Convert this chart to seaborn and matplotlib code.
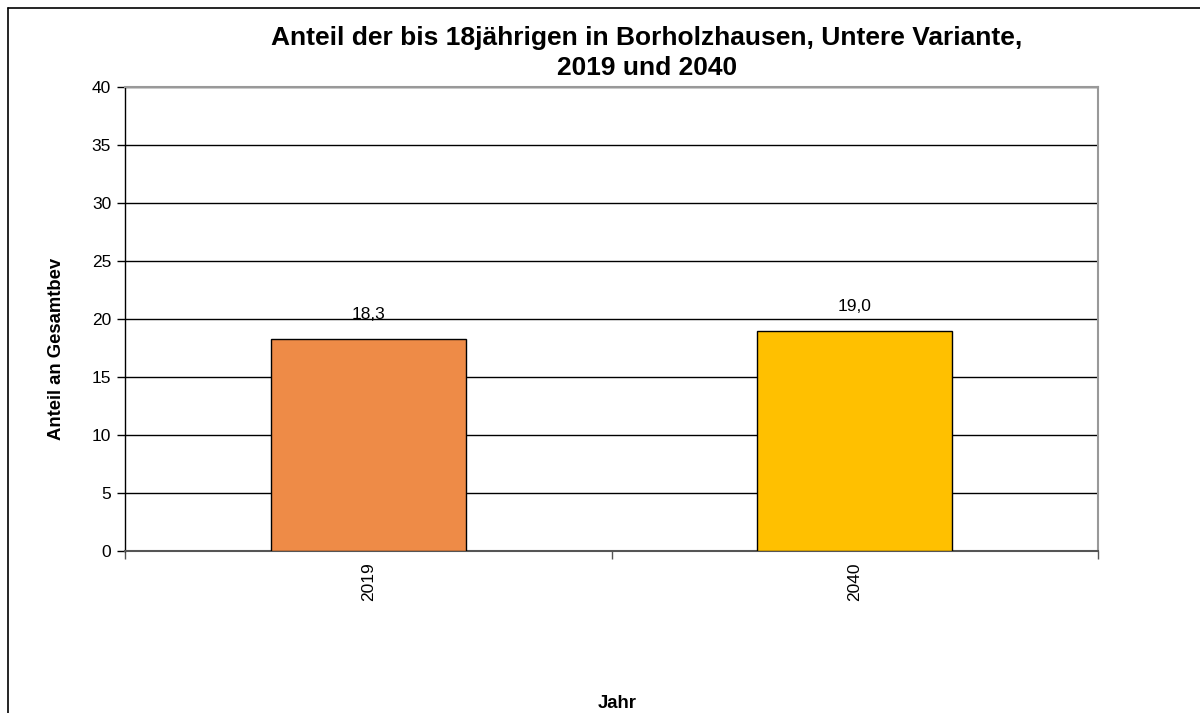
import numpy as np
import pandas as pd
import seaborn as sns
import matplotlib.pyplot as plt
from matplotlib.lines import Line2D

years = ["2019", "2040"]
shares = [18.3, 19.0]
share_labels = ["18,3", "19,0"]
bar_colors = ["#EE8B47", "#FFC000"]
y_ticks = [0, 5, 10, 15, 20, 25, 30, 35, 40]

sns.set_style("white")
plt.rcParams['font.family'] = ['Liberation Sans', 'DejaVu Sans']
plt.rcParams['text.color'] = 'black'
plt.rcParams['xtick.color'] = 'black'
plt.rcParams['ytick.color'] = 'black'
plt.rcParams['axes.labelcolor'] = 'black'

fig = plt.figure(figsize=(12, 7.13), dpi=100)
ax = fig.add_axes([125 / 1200, 1 - 551 / 713, (1098 - 125) / 1200, (551 - 87) / 713])

df = pd.DataFrame({"Jahr": years, "Anteil": shares})
sns.barplot(data=df, x="Jahr", y="Anteil", hue="Jahr", palette=bar_colors,
            saturation=1, width=0.4, edgecolor="black", linewidth=1,
            legend=False, ax=ax, zorder=3)

ax.set_xlim(-0.5, 1.5)
ax.set_ylim(0, 40)
ax.set_yticks(y_ticks)
ax.yaxis.grid(True, color="black", linewidth=1, zorder=0)
ax.set_axisbelow(True)
ax.tick_params(axis="y", direction="out", length=6, width=1, color="black",
               labelsize=12.5, left=True, pad=4)
ax.tick_params(axis="x", which="major", length=0, labelsize=12.5, pad=8,
               labelrotation=90)
ax.set_xticks([-0.5, 0.5, 1.5], minor=True)
ax.tick_params(axis="x", which="minor", direction="out", length=6, width=1,
               color="#555555", bottom=True)

for s in ["top", "right"]:
    ax.spines[s].set_color("#999999")
    ax.spines[s].set_linewidth(1.5)
ax.spines["left"].set_color("black")
ax.spines["left"].set_linewidth(1)
ax.spines["bottom"].set_color("#555555")
ax.spines["bottom"].set_linewidth(1.5)

for i, (v, lab) in enumerate(zip(shares, share_labels)):
    ax.annotate(lab, (i, v), xytext=(0, 14), textcoords="offset points",
                ha="center", va="baseline", fontsize=12.5)

ax.set_xlabel("")
ax.set_ylabel("")
fig.text(647 / 1200, 1 - 53 / 713,
         "Anteil der bis 18jährigen in Borholzhausen, Untere Variante,\n2019 und 2040",
         ha="center", va="center", fontsize=19, fontweight="bold", linespacing=1.3)
fig.text(57 / 1200, 1 - 349 / 713, "Anteil an Gesamtbev", rotation=90,
         ha="center", va="center", fontsize=13.3, fontweight="bold")
fig.text(617 / 1200, 1 - 703 / 713, "Jahr", ha="center", va="center",
         fontsize=13.3, fontweight="bold")

# outer frame (left and top edges of the chart area)
fig.add_artist(Line2D([8 / 1200, 8 / 1200], [0, 1 - 8 / 713], color="black",
                      linewidth=1.2, transform=fig.transFigure))
fig.add_artist(Line2D([8 / 1200, 1], [1 - 8 / 713, 1 - 8 / 713], color="black",
                      linewidth=1.2, transform=fig.transFigure))

fig.savefig("out.png", dpi=100)
